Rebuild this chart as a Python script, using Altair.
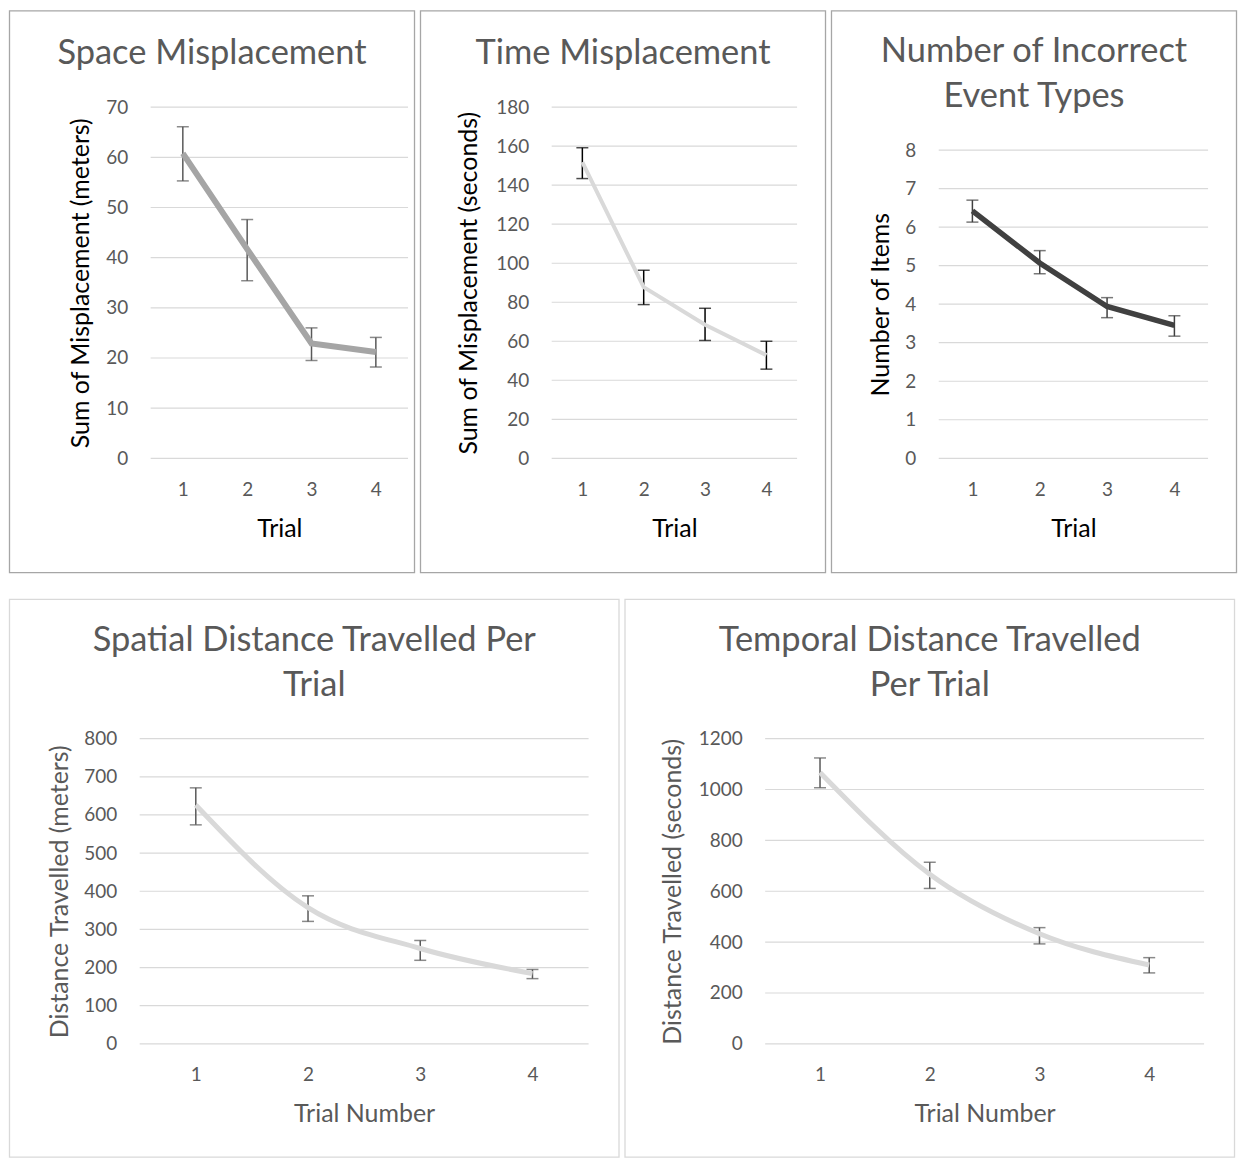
import altair as alt
import pandas as pd

FONT = "Lato"
GRAY = "#595959"

trials = [1, 2, 3, 4]

space_mean = [60.8, 41.7, 22.9, 21.2]
space_lo = [55.3, 35.4, 19.5, 18.2]
space_hi = [66.1, 47.6, 26.0, 24.1]
space_ticks = [0, 10, 20, 30, 40, 50, 60, 70]

time_mean = [151.8, 87.7, 68.5, 52.9]
time_lo = [143.4, 78.8, 60.4, 45.7]
time_hi = [159.2, 96.4, 76.9, 60.0]
time_ticks = [0, 20, 40, 60, 80, 100, 120, 140, 160, 180]

event_mean = [6.42, 5.07, 3.94, 3.45]
event_lo = [6.13, 4.79, 3.65, 3.17]
event_hi = [6.70, 5.39, 4.17, 3.70]
event_ticks = [0, 1, 2, 3, 4, 5, 6, 7, 8]

spatial_mean = [626, 357, 250, 184]
spatial_lo = [574, 321, 219, 171]
spatial_hi = [671, 388, 271, 195]
spatial_ticks = [0, 100, 200, 300, 400, 500, 600, 700, 800]

temporal_mean = [1067, 667, 433, 310]
temporal_lo = [1007, 611, 393, 279]
temporal_hi = [1124, 714, 457, 339]
temporal_ticks = [0, 200, 400, 600, 800, 1000, 1200]


def panel(mean, lo, hi, ticks, title_lines, ytitle, xtitle, line_color, line_w,
          err_color, atitle_color, frame_color, L, x0, W, T, VH, ytop, PW, PH,
          ytd, interp="linear"):
    """L: border->view origin, x0: view origin->first gridline x,
    VH: view height, ytop: y of top gridline inside the view."""
    df = pd.DataFrame({"trial": trials, "mean": mean, "lo": lo, "hi": hi})
    tdf = pd.DataFrame({"v": ticks})
    one = pd.DataFrame({"k": [0]})
    xscale = alt.Scale(domain=[0.5, 4.5], range=[x0, x0 + W], nice=False, zero=False)
    xaxis = alt.Axis(
        title=xtitle, values=trials, format="d", labelAngle=0, labelPadding=31,
        labelBaseline="middle", labelFont=FONT, labelFontSize=19,
        labelColor=GRAY, titleFont=FONT, titleFontSize=25,
        titleFontWeight="normal", titleColor=atitle_color, titleX=x0 + W / 2,
        titleY=70, titleAlign="center", titleBaseline="middle",
        ticks=False, tickSize=0, domain=False, grid=False,
    )
    yscale = alt.Scale(domain=[0, ticks[-1]], range=[VH, ytop], nice=False, zero=True)
    yaxis = alt.Axis(
        values=ticks, format="d", labelPadding=23 - x0, labelFont=FONT,
        labelFontSize=19, labelColor=GRAY, titleFont=FONT, titleFontSize=25,
        titleFontWeight="normal", titleColor=atitle_color, titleX=x0 - ytd,
        titleY=(VH + ytop) / 2, titleAngle=270, titleAlign="center",
        titleBaseline="middle", ticks=False, tickSize=0, domain=False,
        grid=False,
    )

    def Y(field):
        return alt.Y(field, scale=yscale, axis=yaxis, title=ytitle)

    def X(field):
        return alt.X(field, scale=xscale, axis=xaxis, title=xtitle)

    frame = alt.Chart(one).mark_rect(
        fill="white", fillOpacity=0, stroke=frame_color, strokeWidth=1.3
    ).encode(
        x=alt.value(-L + 0.5), x2=alt.value(PW - L - 0.5),
        y=alt.value(-T + 0.5), y2=alt.value(PH - T - 0.5),
    )
    grid = alt.Chart(tdf).mark_rule(color="#d9d9d9", strokeWidth=1.2).encode(
        y=Y("v:Q"), x=alt.value(x0), x2=alt.value(x0 + W)
    )
    n = len(title_lines)
    titles = []
    for i, t in enumerate(title_lines):
        titles.append(
            alt.Chart(one).mark_text(
                text=t, font=FONT, fontSize=34.5, color=GRAY,
                align="center", baseline="alphabetic",
            ).encode(x=alt.value(PW / 2 - L),
                     y=alt.value(ytop - 43 - 45 * (n - 1 - i)))
        )
    base = alt.Chart(df)
    rule = base.mark_rule(color=err_color, strokeWidth=1.5).encode(
        x=X("trial:Q"), y=Y("lo:Q"), y2="hi:Q"
    )
    cap_lo = base.mark_tick(color=err_color, thickness=1.5, size=12,
                            orient="horizontal").encode(x=X("trial:Q"), y=Y("lo:Q"))
    cap_hi = base.mark_tick(color=err_color, thickness=1.5, size=12,
                            orient="horizontal").encode(x=X("trial:Q"), y=Y("hi:Q"))
    line = base.mark_line(color=line_color, strokeWidth=line_w,
                          interpolate=interp).encode(x=X("trial:Q"), y=Y("mean:Q"))
    return alt.layer(frame, grid, *titles, rule, cap_lo, cap_hi, line).properties(
        width=x0 + W, height=VH
    )


TOP_T, TOP_H, TOP_PH, TOP_PW = 97, 352, 564, 407
BOT_T, BOT_H, BOT_PH, BOT_PW = 140, 306, 560, 612

p1 = panel(space_mean, space_lo, space_hi, space_ticks, ["Space Misplacement"],
           "Sum of Misplacement (meters)", "Trial", "#a5a5a5", 6, GRAY, "#000000",
           "#a6a6a6", L=131, x0=11, W=258, T=TOP_T, VH=TOP_H, ytop=0,
           PW=TOP_PW, PH=TOP_PH, ytd=70)
p2 = panel(time_mean, time_lo, time_hi, time_ticks, ["Time Misplacement"],
           "Sum of Misplacement (seconds)", "Trial", "#d9d9d9", 4, "#000000",
           "#000000", "#a6a6a6", L=132, x0=0, W=246, T=TOP_T, VH=TOP_H, ytop=0,
           PW=TOP_PW, PH=TOP_PH, ytd=83)
p3 = panel(event_mean, event_lo, event_hi, event_ticks,
           ["Number of Incorrect", "Event Types"], "Number of Items", "Trial",
           "#404040", 5.5, "#404040", "#000000", "#a6a6a6",
           L=108, x0=0, W=270, T=TOP_T, VH=TOP_H, ytop=43,
           PW=TOP_PW, PH=TOP_PH, ytd=58)
p4 = panel(spatial_mean, spatial_lo, spatial_hi, spatial_ticks,
           ["Spatial Distance Travelled Per", "Trial"],
           "Distance Travelled (meters)", "Trial Number", "#d9d9d9", 5, GRAY,
           GRAY, "#d9d9d9", L=131, x0=0, W=450, T=BOT_T, VH=BOT_H, ytop=0,
           PW=BOT_PW, PH=BOT_PH, ytd=80, interp="monotone")
p5 = panel(temporal_mean, temporal_lo, temporal_hi, temporal_ticks,
           ["Temporal Distance Travelled", "Per Trial"],
           "Distance Travelled (seconds)", "Trial Number", "#d9d9d9", 5, GRAY,
           GRAY, "#d9d9d9", L=141, x0=0, W=440, T=BOT_T, VH=BOT_H, ytop=0,
           PW=BOT_PW, PH=BOT_PH, ytd=93, interp="monotone")

chart = alt.vconcat(
    alt.hconcat(p1, p2, p3, spacing=3),
    alt.hconcat(p4, p5, spacing=3),
    spacing=24,
).properties(padding=0).configure_view(stroke=None)

chart.save("out.html", embed_options={"renderer": "svg", "actions": False})
